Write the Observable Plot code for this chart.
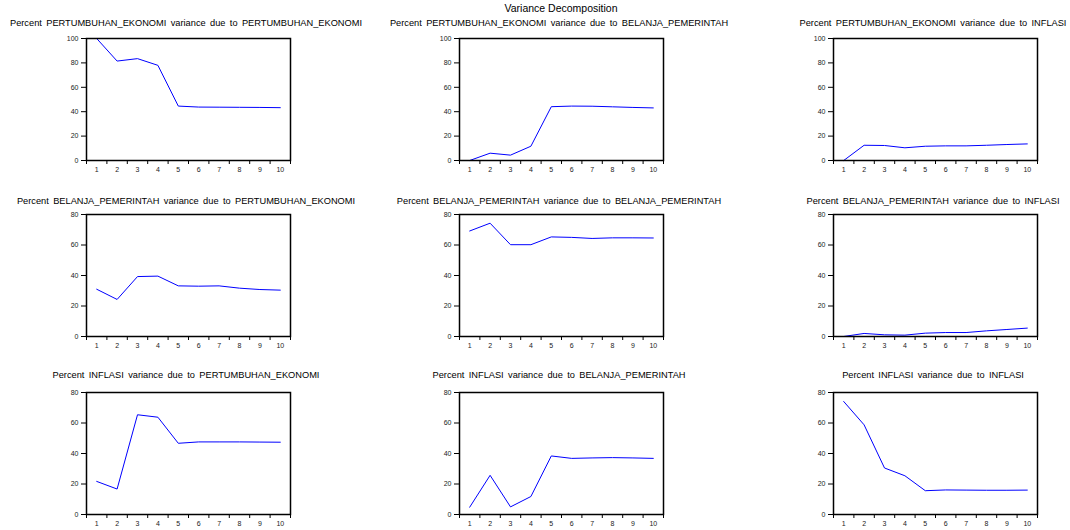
<!DOCTYPE html>
<html><head><meta charset="utf-8">
<script src="https://cdn.jsdelivr.net/npm/d3@7"></script>
<script src="https://cdn.jsdelivr.net/npm/@observablehq/plot@0.6"></script>
<style>
body{margin:0;background:#fff;font-family:"Liberation Sans",Arial,sans-serif;}
#chart{position:relative;width:1070px;height:530px;overflow:hidden;background:#fff;}
.t{position:absolute;white-space:nowrap;color:#000;transform:translate(-50%,-50%);line-height:1;}
.sub{font-size:9.25px;word-spacing:1.8px;}
.main{font-size:10.5px;}
.p{position:absolute;}
</style></head><body><div id="chart"></div>
<script>
const chartTitle = "Variance Decomposition";
const periods = [1, 2, 3, 4, 5, 6, 7, 8, 9, 10];
const variables = ["PERTUMBUHAN_EKONOMI", "BELANJA_PEMERINTAH", "INFLASI"];

// Percent PERTUMBUHAN_EKONOMI variance due to ...
const peDuePE  = [100, 81.5, 83.5, 78.0, 44.6, 43.8, 43.7, 43.6, 43.5, 43.3];
const peDueBP  = [0.0, 6.0, 4.4, 11.7, 44.1, 44.6, 44.5, 44.0, 43.5, 43.1];
const peDueINF = [0.0, 12.5, 12.3, 10.4, 11.7, 12.0, 12.0, 12.5, 13.1, 13.6];
// Percent BELANJA_PEMERINTAH variance due to ...
const bpDuePE  = [31.0, 24.3, 39.3, 39.6, 33.2, 33.0, 33.2, 31.7, 30.8, 30.4];
const bpDueBP  = [69.2, 74.3, 60.2, 60.2, 65.3, 65.0, 64.3, 64.7, 64.7, 64.6];
const bpDueINF = [0.0, 2.0, 1.1, 0.9, 2.2, 2.6, 2.6, 3.7, 4.6, 5.5];
// Percent INFLASI variance due to ...
const infDuePE  = [21.7, 16.7, 65.4, 63.8, 46.7, 47.6, 47.6, 47.6, 47.5, 47.4];
const infDueBP  = [4.8, 25.7, 5.0, 11.8, 38.4, 36.8, 37.1, 37.3, 37.1, 36.8];
const infDueINF = [74.1, 58.8, 30.5, 25.4, 15.6, 16.1, 16.0, 15.9, 15.9, 16.0];

const yMaxByRow = [100, 80, 80];
const grid = [
  [peDuePE, peDueBP, peDueINF],
  [bpDuePE, bpDueBP, bpDueINF],
  [infDuePE, infDueBP, infDueINF]
];

const colLeft = [86, 459, 833];
const rowTop = [38, 214, 392];
const rowTitleY = [24, 202, 376];
const FW = 204, FH = 122;
const mL = 34, mR = 6, mT = 4, mB = 22;

const root = document.getElementById("chart");
const font = '"Liberation Sans", Arial, sans-serif';

function addText(cls, txt, x, y) {
  const d = document.createElement("div");
  d.className = "t " + cls;
  d.textContent = txt;
  d.style.left = x + "px";
  d.style.top = y + "px";
  root.appendChild(d);
}

addText("main", chartTitle, 561, 8);

const boundaries = periods.map(p => p - 0.5).concat([periods[periods.length - 1] + 0.5]);

for (let r = 0; r < 3; r++) {
  for (let c = 0; c < 3; c++) {
    const values = grid[r][c];
    const ymax = yMaxByRow[r];
    const data = periods.map((p, i) => ({period: p, value: values[i]}));
    const svg = Plot.plot({
      width: FW + mL + mR,
      height: FH + mT + mB,
      marginLeft: mL, marginRight: mR, marginTop: mT, marginBottom: mB,
      style: {fontFamily: font, fontSize: "7px", background: "transparent", color: "#000", overflow: "visible"},
      x: {domain: [boundaries[0], boundaries[boundaries.length - 1]], label: null},
      y: {domain: [0, ymax], label: null},
      marks: [
        Plot.axisY({ticks: d3.range(0, ymax + 1, 20), tickSize: 5, tickPadding: 3, tickFormat: d3.format("d"), fill: "#222"}),
        Plot.axisX({ticks: boundaries, tickSize: 4, tickFormat: () => ""}),
        Plot.axisX({ticks: periods, tickSize: 0, tickPadding: 7, tickFormat: d3.format("d"), fill: "#222"}),
        Plot.line(data, {x: "period", y: "value", stroke: "#0000ff", strokeWidth: 1}),
        Plot.frame({stroke: "#000", strokeWidth: 1.5})
      ]
    });
    const wrap = document.createElement("div");
    wrap.className = "p";
    wrap.style.left = (colLeft[c] - mL) + "px";
    wrap.style.top = (rowTop[r] - mT) + "px";
    wrap.appendChild(svg);
    root.appendChild(wrap);
    addText("sub", "Percent " + variables[r] + " variance due to " + variables[c], colLeft[c] + FW / 2 - 2, rowTitleY[r]);
  }
}
</script>
</body></html>
